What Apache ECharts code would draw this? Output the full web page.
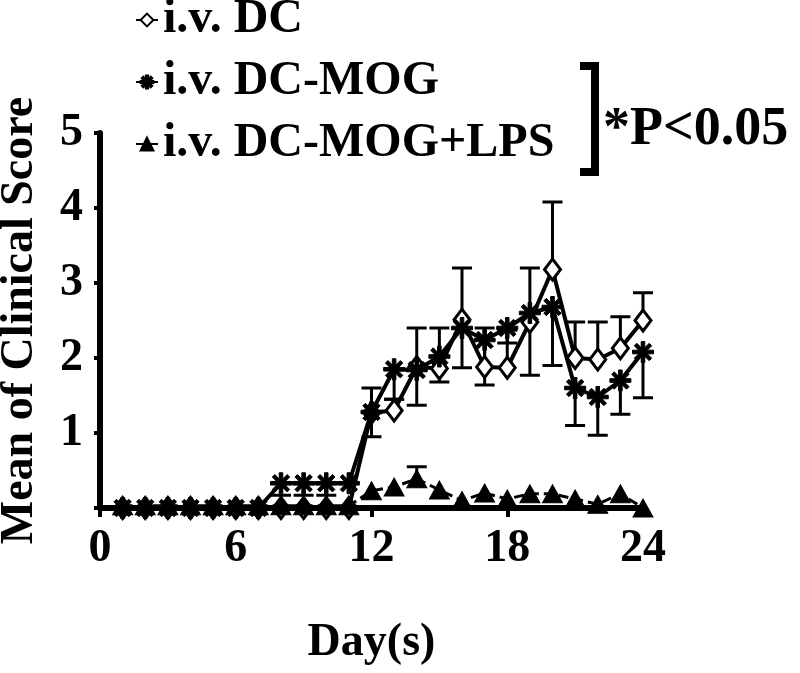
<!DOCTYPE html>
<html>
<head>
<meta charset="utf-8">
<script src="https://cdn.jsdelivr.net/npm/echarts@6/dist/echarts.min.js"></script>
<style>
html,body{margin:0;padding:0;background:#fff;}
#chart{width:800px;height:673px;}
</style>
</head>
<body>
<div id="chart"></div>
<script>
// ---- data ----
const days = [1,2,3,4,5,6,7,8,9,10,11,12,13,14,15,16,17,18,19,20,21,22,23,24];
const seriesNames = ['i.v. DC', 'i.v. DC-MOG', 'i.v. DC-MOG+LPS'];
const dcMean  = [0,0,0,0,0,0,0,0,0,0,0,1.27,1.3,1.88,1.86,2.51,1.88,1.87,2.48,3.18,2.0,1.98,2.13,2.5];
const dcErr   = [0,0,0,0,0,0,0,0,0,0,0,0.33,0.15,0.52,0.54,0.69,0.52,0.5,0.72,0.9,0.48,0.5,0.42,0.37];   // drawn upward
const mogMean = [0,0,0,0,0,0,0,0.33,0.33,0.33,0.33,1.28,1.85,1.84,2.02,2.4,2.24,2.4,2.6,2.68,1.6,1.48,1.7,2.08];
const mogErr  = [0,0,0,0,0,0,0,0,0,0,0,0.33,0.4,0.47,0.34,0.53,0.6,0.2,0.83,0.78,0.5,0.51,0.45,0.61];      // drawn downward
const lpsMean = [0.03,0.03,0.03,0.03,0.03,0.03,0.03,0.03,0.03,0.03,0.03,0.23,0.28,0.39,0.24,0.1,0.2,0.12,0.19,0.19,0.12,0.05,0.19,0];
const lpsErr  = [0,0,0,0,0,0,0,0.14,0.14,0.14,0,0,0,0.16,0,0,0,0,0,0,0,0,0,0];                              // drawn upward
const xTicks = [0,6,12,18,24];
const yTicks = [1,2,3,4,5];
const xTitle = 'Day(s)';
const yTitle = 'Mean of Clinical Score';
const sigText = '*P<0.05';

// ---- build ----
const FONT = '"Liberation Serif", "Times New Roman", serif';
const starPath = 'path://M-10,-1.7L10,-1.7L10,1.7L-10,1.7Z M-1.7,-10L1.7,-10L1.7,10L-1.7,10Z M-5.87,-8.27L8.27,5.87L5.87,8.27L-8.27,-5.87Z M8.27,-5.87L-5.87,8.27L-8.27,5.87L5.87,-8.27Z';

function pts(mean){ return days.map((d,i)=>[d, mean[i]]); }
function errPts(mean, err, dir){ return days.map((d,i)=>[d, mean[i], err[i]*dir]); }

function errRender(params, api){
  const x = api.value(0), y = api.value(1), e = api.value(2);
  if (!e) return {type:'group', children:[]};
  const s = api.coord([x, y]);
  const c = api.coord([x, y+e]);
  const hw = 10;
  const st = {stroke:'#000', lineWidth:3};
  return {type:'group', children:[
    {type:'line', shape:{x1:s[0],y1:s[1],x2:c[0],y2:c[1]}, style:st},
    {type:'line', shape:{x1:c[0]-hw,y1:c[1],x2:c[0]+hw,y2:c[1]}, style:st}
  ]};
}

const chart = echarts.init(document.getElementById('chart'), null, {renderer:'canvas'});
const option = {
  backgroundColor:'#fff',
  animation:false,
  grid:{left:100, right:157, top:133, bottom:165, containLabel:false, outerBoundsMode:'none'},
  legend:{
    orient:'vertical', left:130, top:-9, itemGap:14, itemWidth:22, itemHeight:16,
    textStyle:{fontFamily:FONT, fontWeight:'bold', fontSize:48, color:'#000'},
    data:[
      {name:seriesNames[0]},
      {name:seriesNames[1]},
      {name:seriesNames[2]}
    ]
  },
  xAxis:{
    type:'value', min:0, max:24, interval:6,
    name:xTitle, nameLocation:'middle', nameGap:112,
    nameTextStyle:{fontFamily:FONT, fontWeight:'bold', fontSize:46, color:'#000'},
    axisLine:{onZero:false, lineStyle:{color:'#000', width:6}},
    axisTick:{show:true, inside:false, length:9, lineStyle:{color:'#000', width:4}},
    axisLabel:{fontFamily:FONT, fontWeight:'bold', fontSize:46, color:'#000', margin:18,
      formatter:(v)=> xTicks.indexOf(v)>=0 ? String(v) : ''},
    splitLine:{show:false}
  },
  yAxis:{
    type:'value', min:0, max:5, interval:1,
    name:yTitle, nameLocation:'middle', nameGap:57,
    nameTextStyle:{fontFamily:FONT, fontWeight:'bold', fontSize:46, color:'#000'},
    axisLine:{show:true, lineStyle:{color:'#000', width:6}},
    axisTick:{show:true, inside:false, length:6, lineStyle:{color:'#000', width:4}},
    axisLabel:{fontFamily:FONT, fontWeight:'bold', fontSize:46, color:'#000', margin:17,
      formatter:(v)=> yTicks.indexOf(v)>=0 ? String(v) : ''},
    splitLine:{show:false}
  },
  series:[
    {type:'custom', name:'errDC', renderItem:errRender, data:errPts(dcMean, dcErr, 1), z:1, silent:true, encode:{x:0,y:1}},
    {type:'custom', name:'errMOG', renderItem:errRender, data:errPts(mogMean, mogErr, -1), z:1, silent:true, encode:{x:0,y:1}},
    {type:'custom', name:'errLPS', renderItem:errRender, data:errPts(lpsMean, lpsErr, 1), z:1, silent:true, encode:{x:0,y:1}},
    {type:'line', name:seriesNames[0], data:pts(dcMean), z:3,
      symbol:'diamond', symbolSize:[16,21], showAllSymbol:true,
      lineStyle:{color:'#000', width:4},
      itemStyle:{color:'#fff', borderColor:'#000', borderWidth:3}},
    {type:'line', name:seriesNames[1], data:pts(mogMean), z:4,
      symbol:starPath, symbolSize:21, showAllSymbol:true,
      lineStyle:{color:'#000', width:4},
      itemStyle:{color:'#000', borderColor:'#000', borderWidth:1}},
    {type:'line', name:seriesNames[2], data:pts(lpsMean), z:5,
      symbol:'triangle', symbolSize:[20,18], showAllSymbol:true,
      lineStyle:{color:'#000', width:3, type:[10,5]},
      itemStyle:{color:'#000', borderColor:'#000', borderWidth:1}}
  ],
  graphic:[
    {type:'polyline', shape:{points:[[580,66],[595,66],[595,172],[580,172]]},
      style:{stroke:'#000', lineWidth:8, fill:null}},
    {type:'text', left:603, top:103,
      style:{text:sigText, fontFamily:FONT, fontWeight:'bold', fontSize:54, fill:'#000'}}
  ]
};
chart.setOption(option);
</script>
</body>
</html>
